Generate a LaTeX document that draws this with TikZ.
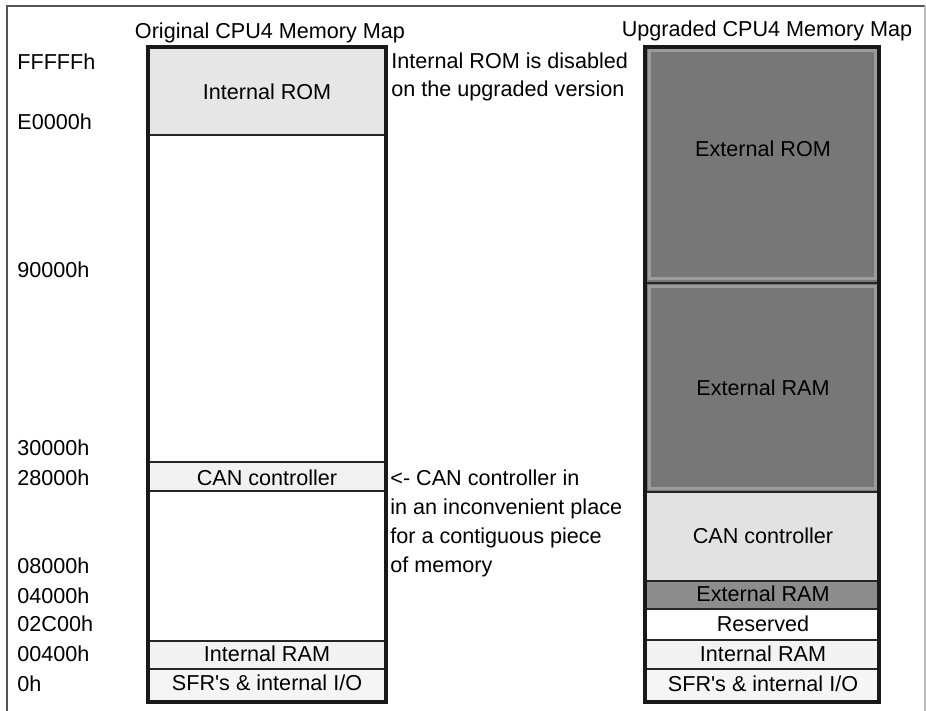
\documentclass[tikz,border=0pt]{standalone}
\usepackage{fontspec}
\setmainfont{Liberation Sans}[Ligatures=TeXOff]
\definecolor{romlight}{HTML}{E6E6E6}
\definecolor{canlight}{HTML}{F1F1F1}
\definecolor{ramlight}{HTML}{F2F2F2}
\definecolor{sfrlight}{HTML}{F5F5F5}
\definecolor{extdark}{HTML}{777777}
\definecolor{extedge}{HTML}{9C9C9C}
\definecolor{extsmall}{HTML}{8C8C8C}
\definecolor{canright}{HTML}{E2E2E2}
\definecolor{framegray}{HTML}{555555}
\definecolor{framefaint}{HTML}{BBBBBB}
\tikzset{
  txt/.style={anchor=base,inner sep=0pt,font=\fontsize{10.8}{13}\selectfont},
  lbl/.style={txt,anchor=base west},
  divider/.style={line width=1pt,black!85},
  mapbox/.style={line width=1.6pt,black!90},
  glow/.style={line width=1.5pt,extedge}
}
\begin{document}
\begin{tikzpicture}[x=0.5pt,y=-0.5pt]
\useasboundingbox (0,0) rectangle (926,711);
\clip (0,0) rectangle (926,711);
\fill[white] (0,0) rectangle (926,711);
% outer frame
\draw[framegray,line width=0.75pt] (7,720) -- (7,6) -- (925,6);
\draw[framefaint,line width=0.75pt] (925,6) -- (925,720);

% ---------- left map ----------
\fill[romlight] (148,47) rectangle (386,135);
\fill[canlight] (148,462) rectangle (386,491);
\fill[ramlight] (148,641) rectangle (386,669);
\fill[sfrlight] (148,669) rectangle (386,702);
\draw[divider] (148,135) -- (386,135);
\draw[divider] (148,462) -- (386,462);
\draw[divider] (148,491) -- (386,491);
\draw[divider] (148,641) -- (386,641);
\draw[divider] (148,669) -- (386,669);
\draw[mapbox] (148,47) rectangle (386,702);

% ---------- right map ----------
\fill[extdark] (645,47) rectangle (879,283);
\fill[extdark] (645,283) rectangle (879,492);
\draw[glow] (649,51) rectangle (875,279);
\draw[glow] (649,287) rectangle (875,488);
\fill[canright] (645,492) rectangle (879,581);
\fill[extsmall] (645,581) rectangle (879,609);
\fill[white] (645,609) rectangle (879,640);
\fill[ramlight] (645,640) rectangle (879,669);
\fill[sfrlight] (645,669) rectangle (879,702);
\draw[divider] (645,283) -- (879,283);
\draw[divider] (645,492) -- (879,492);
\draw[divider] (645,581) -- (879,581);
\draw[divider] (645,609) -- (879,609);
\draw[divider] (645,640) -- (879,640);
\draw[divider] (645,669) -- (879,669);
\draw[mapbox] (645,47) rectangle (879,702);

% titles
\node[txt] (titleL) at (270,39) {Original CPU4 Memory Map};
\node[txt] (titleR) at (767,37) {Upgraded CPU4 Memory Map};

% address labels
\node[lbl] (aF) at (17,70) {FFFFFh};
\node[lbl] (aE) at (17,130) {E0000h};
\node[lbl] (a9) at (17,278) {90000h};
\node[lbl] (a30) at (17,455) {30000h};
\node[lbl] (a28) at (17,485) {28000h};
\node[lbl] (a08) at (17,573) {08000h};
\node[lbl] (a04) at (17,603) {04000h};
\node[lbl] (a02) at (17,631) {02C00h};
\node[lbl] (a004) at (17,661) {00400h};
\node[lbl] (a0) at (17,691) {0h};

% left block labels
\node[txt] (lrom) at (267,100) {Internal ROM};
\node[txt] (lcan) at (267,485) {CAN controller};
\node[txt] (lram) at (267,661) {Internal RAM};
\node[txt] (lsfr) at (267,690) {SFR's \& internal I/O};

% right block labels
\node[txt] (rrom) at (763,157) {External ROM};
\node[txt] (rram) at (763,395) {External RAM};
\node[txt] (rcan) at (763,543) {CAN controller};
\node[txt] (rram2) at (763,601) {External RAM};
\node[txt] (rres) at (763,631) {Reserved};
\node[txt] (rram3) at (763,661) {Internal RAM};
\node[txt] (rsfr) at (763,691) {SFR's \& internal I/O};

% annotations
\node[lbl] (n1) at (391,69) {Internal ROM is disabled};
\node[lbl] (n2) at (391,97) {on the upgraded version};
\node[lbl] (c1) at (390,485) {<- CAN controller in};
\node[lbl] (c2) at (390,514) {in an inconvenient place};
\node[lbl] (c3) at (390,543) {for a contiguous piece};
\node[lbl] (c4) at (390,572) {of memory};
\end{tikzpicture}
\end{document}
